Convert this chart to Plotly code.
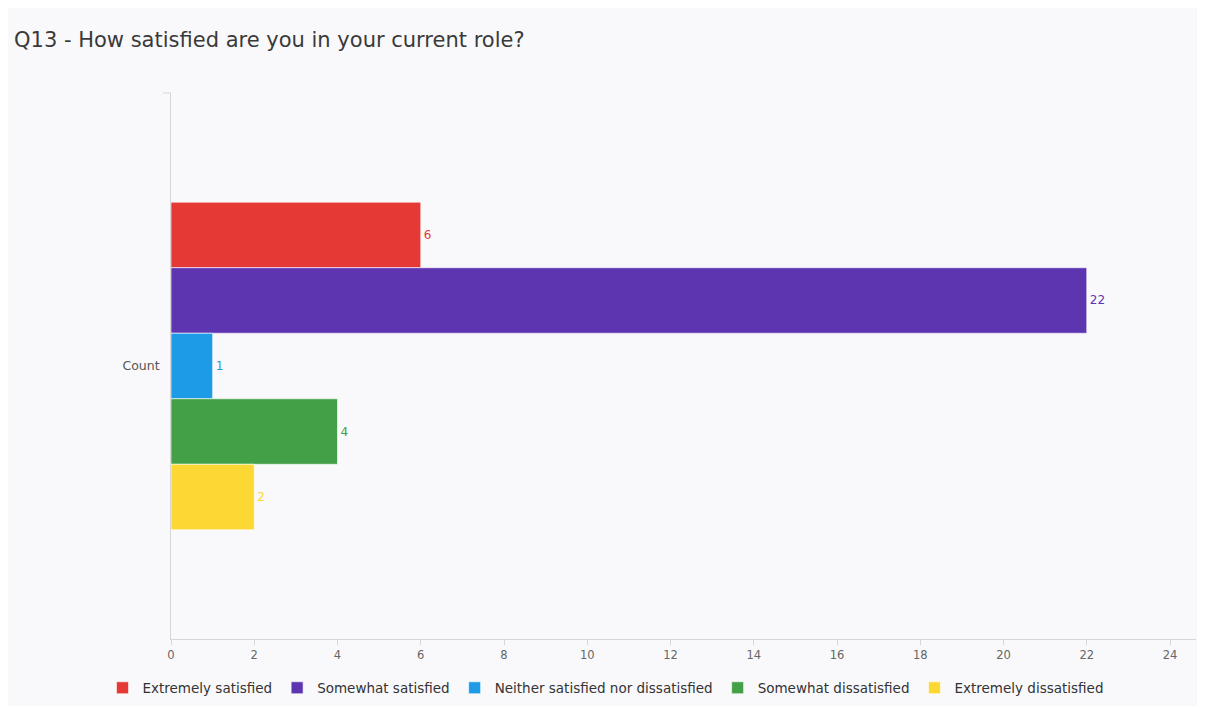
import plotly.graph_objects as go

categories = ["Count"]
series_names = ["Extremely satisfied", "Somewhat satisfied",
                "Neither satisfied nor dissatisfied", "Somewhat dissatisfied",
                "Extremely dissatisfied"]
series_values = [6, 22, 1, 4, 2]
series_colors = ["#e53935", "#5e35b1", "#1e9be6", "#43a047", "#fdd835"]
x_ticks = [0, 2, 4, 6, 8, 10, 12, 14, 16, 18, 20, 22, 24]

FONT = "DejaVu Sans, sans-serif"

fig = go.Figure()
for name, val, col in zip(series_names, series_values, series_colors):
    fig.add_trace(go.Bar(
        y=categories, x=[val], name=name, orientation="h",
        marker=dict(color=col, line=dict(color="rgba(255,255,255,0.6)", width=1)),
        text=[str(val)], textposition="outside",
        textfont=dict(color=col, size=12, family=FONT),
        cliponaxis=False,
    ))

# page has an 8px body margin; figure placed at (8, 8)
W, H = 1195, 698
L, R, T, B = 163, 7, 85, 67
pw, ph = W - L - R, H - T - B

# small tick at the top of the y axis line
fig.add_shape(type="line", xref="paper", yref="paper",
              x0=-8 / pw, x1=0, y0=1, y1=1,
              line=dict(color="#d6d6d6", width=1))

fig.update_layout(
    width=W, height=H,
    margin=dict(l=L, r=R, t=T, b=B, autoexpand=False),
    paper_bgcolor="#f9f9fb", plot_bgcolor="#f9f9fb",
    barmode="group", bargap=0.4, bargroupgap=0,
    font=dict(family=FONT, color="#555"),
    title=dict(text="Q13 - How satisfied are you in your current role?",
               xref="container", x=6 / W, xanchor="left",
               yref="container", y=1 - 32 / H, yanchor="middle",
               font=dict(size=21, color="#3a3a3a", family=FONT)),
    xaxis=dict(range=[0, pw / 41.625], tickvals=x_ticks,
               showgrid=False, zeroline=False,
               showline=True, linecolor="#d6d6d6", linewidth=1,
               ticks="outside", ticklen=5, tickcolor="#d6d6d6",
               tickfont=dict(size=11.5, color="#666")),
    yaxis=dict(autorange="reversed", showgrid=False, zeroline=False,
               showline=True, linecolor="#d6d6d6", linewidth=1,
               ticks="", tickfont=dict(size=12.5, color="#555"), ticksuffix="  "),
    legend=dict(orientation="h", xref="container", x=0.5, xanchor="center",
                yref="container", y=1 - 680 / H, yanchor="middle",
                font=dict(size=13.5, color="#333"), itemwidth=30,
                bgcolor="rgba(0,0,0,0)", tracegroupgap=0),
    showlegend=True,
)

fig.write_html("out.html")
